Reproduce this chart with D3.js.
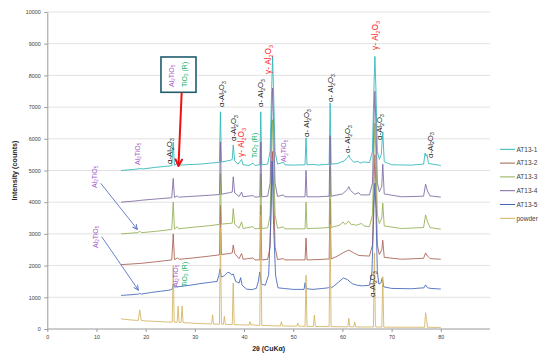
<!DOCTYPE html>
<html>
<head>
<meta charset="utf-8">
<script src="https://cdn.jsdelivr.net/npm/d3@7"></script>
<style>
  body { margin: 0; background: #fff; }
  svg { display: block; font-family: "Liberation Sans", Arial, sans-serif; }
</style>
</head>
<body>
<svg id="chart" width="550" height="362"></svg>
<script>
// ================= DATA (2θ, counts) =================
const at13_1 = [[15,5000],[18,5040],[18.8,5060],[19.5,5050],[22,5100],[25.3,5150],[25.6,5900],[25.85,5160],[26.4,5230],[26.7,5170],[28,5180],[31,5200],[33,5230],[35,5260],[35.2,6850],[35.4,5270],[36.5,5300],[37.2,5320],[37.6,5350],[37.8,5800],[38.1,5300],[38.8,5200],[39.5,5350],[39.8,5180],[41,5160],[41.8,5230],[42.2,5160],[43.2,5180],[43.4,6850],[43.6,5180],[44.8,5200],[45.3,5600],[45.6,7500],[45.8,8600],[46.0,7500],[46.3,5600],[46.8,5200],[48.0,5260],[48.3,5180],[50,5170],[52.4,5180],[52.6,6030],[52.8,5180],[54.2,5190],[55,5170],[57.3,5200],[57.5,7130],[57.7,5200],[59,5220],[60.3,5300],[61.0,5400],[61.3,5490],[61.6,5380],[62.3,5260],[63.2,5290],[63.6,5230],[64.3,5270],[65.5,5250],[66.1,5600],[66.4,7600],[66.6,8600],[66.8,7600],[67.1,5600],[67.5,5350],[67.9,5500],[68.2,6220],[68.5,5280],[70,5180],[74,5170],[76.5,5200],[76.8,5550],[77.0,5450],[77.2,5500],[77.5,5220],[80,5160]];
const at13_2 = [[15,2030],[19,2070],[22,2120],[25.3,2180],[25.6,3000],[25.85,2190],[26.5,2240],[26.8,2200],[29,2230],[33,2300],[35,2340],[35.2,3900],[35.4,2350],[37,2380],[37.6,2400],[37.8,2650],[38.1,2380],[39,2220],[39.5,2380],[39.8,2200],[41.8,2240],[42.2,2180],[43.2,2180],[43.4,3900],[43.6,2180],[44.8,2200],[45.3,2600],[45.6,4500],[45.8,5600],[46.0,4500],[46.3,2600],[46.8,2190],[48,2220],[48.3,2180],[52.4,2180],[52.6,2870],[52.8,2180],[55,2190],[57.3,2210],[57.5,4100],[57.7,2210],[59,2300],[60.3,2420],[61.3,2490],[62.3,2400],[63.3,2320],[65.5,2300],[66.1,2650],[66.4,4500],[66.6,5500],[66.8,4500],[67.1,2650],[67.5,2350],[68.0,2500],[68.2,2800],[68.5,2260],[72,2200],[76.5,2230],[76.9,2400],[77.3,2300],[77.8,2220],[80,2200]];
const at13_3 = [[15,3000],[18.4,3040],[18.8,3080],[19.2,3040],[22,3080],[25.3,3140],[25.6,4000],[25.85,3150],[26.4,3230],[26.7,3160],[29,3200],[33,3260],[35,3300],[35.2,4900],[35.4,3310],[37,3330],[37.6,3340],[37.8,3800],[38.1,3300],[39,3180],[39.5,3380],[39.8,3170],[41.8,3230],[42.2,3160],[43.2,3170],[43.4,4900],[43.6,3170],[44.8,3190],[45.3,3600],[45.6,5500],[45.8,6600],[46.0,5500],[46.3,3600],[46.8,3180],[48,3220],[48.3,3160],[52.4,3160],[52.6,4000],[52.8,3170],[55,3180],[57.3,3200],[57.5,5100],[57.7,3200],[59.5,3280],[60.1,3380],[60.5,3300],[61.3,3400],[61.8,3290],[62.3,3300],[62.8,3270],[63.9,3330],[64.4,3250],[65.5,3230],[66.1,3600],[66.4,5500],[66.6,6500],[66.8,5500],[67.1,3600],[67.5,3330],[68.0,3500],[68.2,3970],[68.5,3250],[72,3170],[76.5,3200],[76.9,3600],[77.3,3380],[77.8,3200],[80,3150]];
const at13_4 = [[15,4000],[18,4040],[19,4060],[22,4100],[25.3,4140],[25.6,4750],[25.85,4150],[26.4,4200],[26.7,4160],[29,4180],[33,4220],[35,4240],[35.2,5900],[35.4,4250],[37.0,4300],[37.6,4320],[37.8,4800],[38.1,4290],[39,4180],[39.5,4320],[39.8,4170],[41.8,4210],[42.2,4160],[43.2,4170],[43.4,5900],[43.6,4170],[44.8,4190],[45.3,4600],[45.6,6500],[45.8,7600],[46.0,6500],[46.3,4600],[46.8,4180],[48,4230],[48.3,4170],[52.4,4170],[52.6,5000],[52.8,4170],[55,4170],[57.3,4190],[57.5,6100],[57.7,4190],[60,4260],[61.0,4400],[61.3,4490],[61.6,4380],[62.5,4250],[63.3,4300],[63.7,4230],[65.5,4230],[66.1,4600],[66.4,6500],[66.6,7500],[66.8,6500],[67.1,4600],[67.5,4330],[68.0,4500],[68.2,5200],[68.5,4260],[72,4170],[76.5,4190],[76.9,4570],[77.3,4350],[77.8,4200],[80,4160]];
const at13_5 = [[15,1060],[17,1080],[18.5,1100],[18.8,1130],[19.1,1100],[21,1150],[23,1190],[25,1230],[25.4,1260],[25.6,1400],[25.9,1320],[27,1340],[29,1380],[31,1430],[33,1470],[34.5,1500],[34.9,1700],[35.1,1890],[35.4,1640],[36.0,1680],[36.7,1790],[37.2,1760],[37.5,1700],[37.8,1740],[38.3,1500],[39.0,1450],[39.3,1620],[39.6,1380],[40.5,1260],[41.5,1240],[42.5,1280],[42.9,1500],[43.2,1800],[43.5,1420],[44.3,1380],[45.0,1700],[45.4,3300],[45.7,5300],[46.0,3300],[46.4,1700],[46.9,1300],[48,1280],[50,1250],[52.2,1250],[52.4,1460],[52.7,1270],[54,1250],[56,1280],[57.2,1300],[57.5,1350],[57.8,1300],[59,1450],[60.2,1610],[61,1560],[62,1430],[63,1380],[64,1360],[65.5,1380],[66.0,1800],[66.4,3800],[66.6,4600],[66.8,3800],[67.1,1800],[67.4,1420],[67.8,1450],[68.1,1610],[68.4,1330],[70,1280],[74,1270],[76.6,1300],[76.9,1390],[77.3,1300],[78,1280],[80,1260]];
const powder = [[15,320],[16,300],[17,285],[18.5,270],[18.8,600],[19.1,265],[20,255],[22,240],[24,225],[25.4,215],[25.6,2000],[25.8,215],[26.4,210],[26.6,720],[26.8,205],[27.2,205],[27.4,720],[27.6,200],[29,190],[31,170],[33.4,160],[33.6,450],[33.8,155],[35.0,150],[35.2,3200],[35.4,150],[35.8,150],[36.0,400],[36.2,145],[37.6,140],[37.8,1450],[38.0,138],[39.5,130],[41.0,125],[41.2,230],[41.4,120],[41.8,150],[42.0,120],[43.2,115],[43.4,3600],[43.6,115],[45,105],[46,100],[47.4,95],[47.6,230],[47.8,95],[50.7,90],[50.9,190],[51.1,90],[52.4,85],[52.6,1700],[52.8,85],[54.1,80],[54.3,440],[54.5,80],[56.5,78],[57.3,75],[57.5,3300],[57.7,75],[59.5,70],[61.1,70],[61.3,340],[61.5,70],[62.3,68],[62.5,220],[62.7,66],[64,64],[66.3,64],[66.5,2400],[66.7,150],[66.8,64],[68.0,62],[68.2,1650],[68.4,60],[70,58],[74,55],[76.7,55],[76.9,515],[77.1,300],[77.3,55],[80,50]];

const seriesNames = ["AT13-1", "AT13-2", "AT13-3", "AT13-4", "AT13-5", "powder"];
const seriesData = [at13_1, at13_2, at13_3, at13_4, at13_5, powder];
const seriesColors = ["#2bb5b8", "#a65e50", "#92ae52", "#7b68a0", "#4062b8", "#d2b262"];

const xTicks = [0, 10, 20, 30, 40, 50, 60, 70, 80];
const yTicks = [0, 1000, 2000, 3000, 4000, 5000, 6000, 7000, 8000, 9000, 10000];

// phase labels: text, 2θ, counts (bottom of rotated text), kind
const labels = [
  ["α-Al_2O_3", 24.74, 5205, "a"],
  ["α-Al_2O_3", 35.31, 7003, "a"],
  ["α-Al_2O_3", 37.75, 5931, "a"],
  ["γ- Al_2O_3", 39.48, 5426, "g"],
  ["TiO_2 (R)", 42.02, 5394, "t"],
  ["α- Al_2O_3", 43.24, 7003, "a"],
  ["γ- Al_2O_3", 44.97, 8044, "g"],
  ["Al_2TiO_5", 48.02, 5268, "p"],
  ["α- Al_2O_3", 52.59, 6057, "a"],
  ["α- Al_2O_3", 57.47, 7161, "a"],
  ["α- Al_2O_3", 61.03, 5552, "a"],
  ["γ- Al_2O_3", 66.62, 8801, "g"],
  ["α-Al_2O_3", 67.54, 5963, "a"],
  ["α-Al_2O_3", 77.79, 5394, "a"],
  ["Al_2TiO_5", 18.24, 5174, "p"],
  ["Al_2TiO_5", 9.49, 4448, "p"],
  ["Al_2TiO_5", 9.70, 2555, "p"],
  ["Al_2TiO_5", 25.96, 1325, "p"],
  ["TiO_2 (R)", 27.79, 1325, "t"],
  ["α-Al_2O_3", 66.01, 1009, "a"],
  ["Al_2TiO_5", 25.15, 7634, "p"],
  ["TiO_2 (R)", 27.79, 7634, "t"]
];
const labelStyle = {
  a: { fill: "#1a1a1a", size: 7.8 },
  g: { fill: "#ff1a1a", size: 8.3 },
  p: { fill: "#a45cc8", size: 7 },
  t: { fill: "#12b060", size: 7 }
};

// arrows: [x1, y1, x2, y2] in (2θ, counts)
const blueArrows = [[10.86, 4596, 18.30, 3145], [11.06, 2912, 18.50, 1230]];
const redArrow = [27.32, 7461, 26.67, 5142];
const boxExtent = [23.11, 8581, 30.23, 7467];

// ================= SETUP =================
const svg = d3.select("#chart");
const x = d3.scaleLinear().domain([0, 90]).range([47.3, 490]);
const y = d3.scaleLinear().domain([0, 10000]).range([329, 12]);

// gridlines
svg.append("g")
  .selectAll("line")
  .data(yTicks.filter((d) => d > 0))
  .join("line")
  .attr("x1", x(0)).attr("x2", x(90))
  .attr("y1", (d) => y(d)).attr("y2", (d) => y(d))
  .attr("stroke", "#e2e2e2").attr("stroke-width", 1);

// axes
const yAxis = svg.append("g")
  .attr("transform", `translate(${x(0)},0)`)
  .call(d3.axisLeft(y).tickValues(yTicks).tickFormat(d3.format("d"))
    .tickSize(3).tickSizeOuter(0).tickPadding(3.5));
const xAxis = svg.append("g")
  .attr("transform", `translate(0,${y(0)})`)
  .call(d3.axisBottom(x).tickValues(xTicks).tickFormat(d3.format("d"))
    .tickSize(3).tickSizeOuter(0).tickPadding(3));

[yAxis, xAxis].forEach((ax) => {
  ax.select(".domain").attr("stroke", "#9a9a9a");
  ax.selectAll(".tick line").attr("stroke", "#9a9a9a");
  ax.selectAll(".tick text")
    .attr("font-family", "Liberation Sans, Arial, sans-serif")
    .attr("font-size", 5.4)
    .attr("fill", "#404040");
});
// extend x axis line to the plot edge
xAxis.select(".domain").attr("d", `M${x(0)},0H${x(90)}`);

// axis titles
svg.append("text")
  .attr("transform", `translate(17,${(y(0) + y(10000)) / 2}) rotate(-90)`)
  .attr("text-anchor", "middle")
  .attr("font-size", 7.2).attr("font-weight", "bold").attr("fill", "#262626")
  .text("Intensity (counts)");
svg.append("text")
  .attr("x", (x(0) + x(90)) / 2).attr("y", 350.5)
  .attr("text-anchor", "middle")
  .attr("font-size", 7).attr("font-weight", "bold").attr("fill", "#262626")
  .text("2θ (CuKα)");

// ================= SERIES =================
const line = d3.line().x((d) => x(d[0])).y((d) => y(d[1]));
svg.append("g")
  .selectAll("path")
  .data(seriesData)
  .join("path")
  .attr("d", line)
  .attr("fill", "none")
  .attr("stroke", (d, i) => seriesColors[i])
  .attr("stroke-width", 0.85)
  .attr("stroke-linejoin", "round");

// ================= LEGEND =================
const legend = svg.append("g")
  .selectAll("g")
  .data(seriesNames)
  .join("g")
  .attr("transform", (d, i) => `translate(500,${149.3 + i * 13.8})`);
legend.append("line")
  .attr("x1", 0).attr("x2", 15)
  .attr("stroke", (d, i) => seriesColors[i]).attr("stroke-width", 1);
legend.append("text")
  .attr("x", 16.5).attr("dy", "0.35em")
  .attr("font-size", 6.5).attr("fill", "#404040")
  .text((d) => d);

// ================= ANNOTATIONS =================
const defs = svg.append("defs");
function marker(id, color, size, sw) {
  defs.append("marker")
    .attr("id", id).attr("viewBox", "0 0 10 10")
    .attr("refX", 9).attr("refY", 5)
    .attr("markerWidth", size).attr("markerHeight", size)
    .attr("markerUnits", "userSpaceOnUse").attr("orient", "auto")
    .append("path").attr("d", "M1,1 L9,5 L1,9")
    .attr("fill", "none").attr("stroke", color).attr("stroke-width", sw);
}
marker("headRed", "#ee1111", 9, 2.2);
marker("headBlue", "#5a74c4", 6, 1.6);

// box around the rutile / Al2TiO5 note
svg.append("rect")
  .attr("x", x(boxExtent[0])).attr("y", y(boxExtent[1]))
  .attr("width", x(boxExtent[2]) - x(boxExtent[0]))
  .attr("height", y(boxExtent[3]) - y(boxExtent[1]))
  .attr("fill", "#fff").attr("stroke", "#1f5e6c").attr("stroke-width", 1.6);

svg.append("line")
  .attr("x1", x(redArrow[0])).attr("y1", y(redArrow[1]))
  .attr("x2", x(redArrow[2])).attr("y2", y(redArrow[3]))
  .attr("stroke", "#ee1111").attr("stroke-width", 2)
  .attr("marker-end", "url(#headRed)");

svg.append("g")
  .selectAll("line")
  .data(blueArrows)
  .join("line")
  .attr("x1", (d) => x(d[0])).attr("y1", (d) => y(d[1]))
  .attr("x2", (d) => x(d[2])).attr("y2", (d) => y(d[3]))
  .attr("stroke", "#5a74c4").attr("stroke-width", 0.9)
  .attr("marker-end", "url(#headBlue)");

// rotated chemical labels, "_n" marks a subscript
labels.forEach(([str, tx, ty, kind]) => {
  const st = labelStyle[kind];
  const fs = st.size;
  const text = svg.append("text")
    .attr("transform", `translate(${x(tx) + fs * 0.36},${y(ty)}) rotate(-90)`)
    .attr("font-size", fs).attr("fill", st.fill);
  let shifted = false;
  str.split(/(_\d)/).filter((s) => s.length).forEach((part) => {
    if (part[0] === "_") {
      text.append("tspan").attr("font-size", fs * 0.65).attr("dy", fs * 0.22).text(part.slice(1));
      shifted = true;
    } else {
      const ts = text.append("tspan").text(part);
      if (shifted) { ts.attr("dy", -fs * 0.22); shifted = false; }
    }
  });
});
</script>
</body>
</html>
